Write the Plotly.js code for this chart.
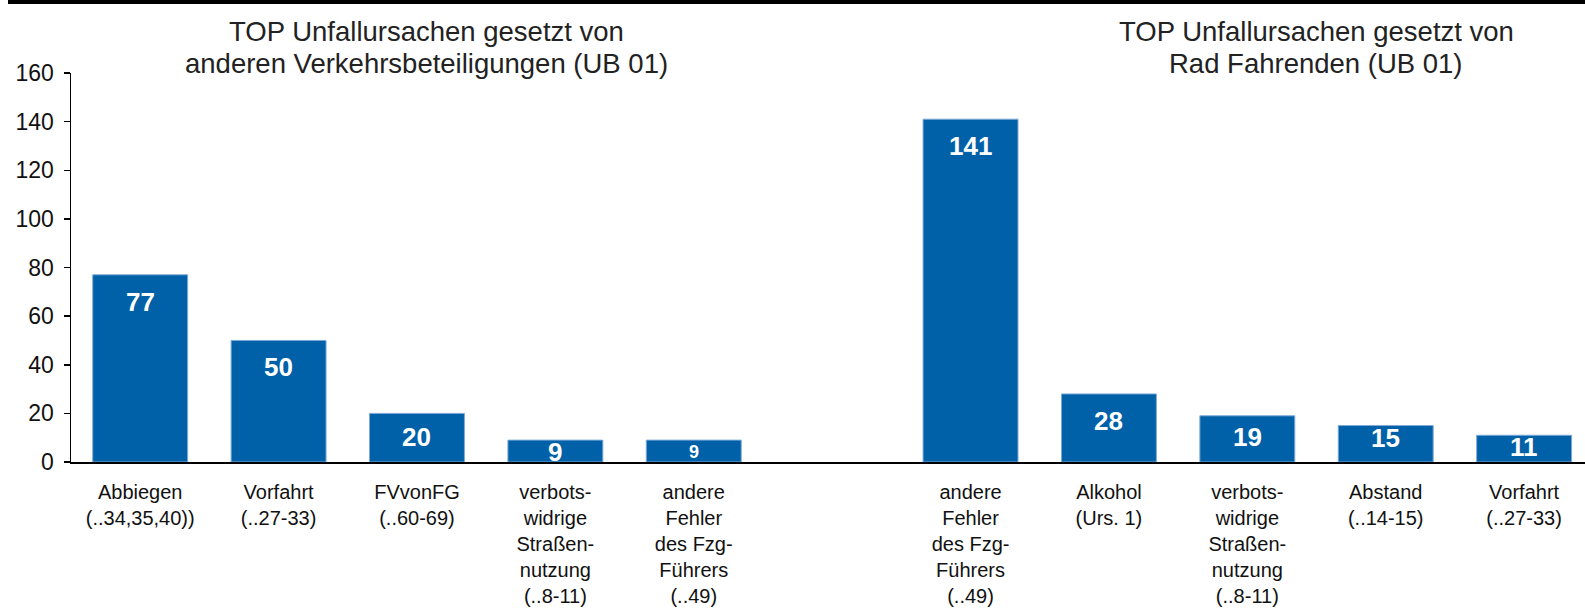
<!DOCTYPE html>
<html>
<head>
<meta charset="utf-8">
<script src="https://cdn.plot.ly/plotly-3.0.1.min.js"></script>
<style>html,body{margin:0;padding:0;background:#fff;}#chart{width:1585px;height:611px;}</style>
</head>
<body>
<div id="chart"></div>
<script>
// ---- data ----
var leftCategories = [
  "Abbiegen<br>(..34,35,40))",
  "Vorfahrt<br>(..27-33)",
  "FVvonFG<br>(..60-69)",
  "verbots-<br>widrige<br>Straßen-<br>nutzung<br>(..8-11)",
  "andere<br>Fehler<br>des Fzg-<br>Führers<br>(..49)"
];
var leftValues = [77, 50, 20, 9, 9];
var rightCategories = [
  "andere<br>Fehler<br>des Fzg-<br>Führers<br>(..49)",
  "Alkohol<br>(Urs. 1)",
  "verbots-<br>widrige<br>Straßen-<br>nutzung<br>(..8-11)",
  "Abstand<br>(..14-15)",
  "Vorfahrt<br>(..27-33)"
];
var rightValues = [141, 28, 19, 15, 11];
var leftTitle = ["TOP Unfallursachen gesetzt von", "anderen Verkehrsbeteiligungen (UB 01)"];
var rightTitle = ["TOP Unfallursachen gesetzt von", "Rad Fahrenden (UB 01)"];

// ---- layout helpers ----
var rightOffset = leftCategories.length + 1; // one empty slot between groups
var leftX = leftCategories.map(function(_, i){ return i; });
var rightX = rightCategories.map(function(_, i){ return i + rightOffset; });

var barColor = "#0061A8";
var plotTop = 73, plotBottom = 462, yMax = 160;
var pxPerUnit = (plotBottom - plotTop) / yMax;
var FONT = "Liberation Sans, Arial, sans-serif";

function barTrace(xs, ys, cats) {
  return {
    type: "bar", x: xs, y: ys, width: 0.686,
    marker: {color: barColor, line: {color: "#7fa9d6", width: 1}},
    hoverinfo: "skip", customdata: cats, showlegend: false
  };
}

var annotations = [];
function addValueLabels(xs, ys, smallIdx) {
  xs.forEach(function(x, i) {
    var h = ys[i] * pxPerUnit;
    var shift = Math.min(27, Math.max(h - 25, 12));
    annotations.push({
      x: x, y: ys[i], xref: "x", yref: "y", text: String(ys[i]),
      showarrow: false, yanchor: "middle", yshift: -shift,
      font: {family: FONT, size: (i === smallIdx ? 18 : 26), color: "#ffffff", weight: "bold"}
    });
  });
}
addValueLabels(leftX, leftValues, 4);
addValueLabels(rightX, rightValues, -1);

var titleFont = {family: FONT, size: 27.5, color: "#222"};
function addTitle(lines, xp) {
  var ys = [1.1054, 1.0257];
  lines.forEach(function(t, i) {
    annotations.push({x: xp, y: ys[i], xref: "paper", yref: "paper", text: t,
      showarrow: false, xanchor: "center", yanchor: "middle", font: titleFont});
  });
}
addTitle(leftTitle, 0.2345);
addTitle(rightTitle, 0.8224);

var data = [barTrace(leftX, leftValues, leftCategories), barTrace(rightX, rightValues, rightCategories)];

var layout = {
  width: 1585, height: 611,
  margin: {l: 71, r: 0, t: plotTop, b: 611 - plotBottom, pad: 0},
  paper_bgcolor: "#fff", plot_bgcolor: "#fff",
  font: {family: FONT, color: "#111"},
  xaxis: {
    range: [-0.5, 10.44], fixedrange: true,
    tickmode: "array", tickvals: leftX.concat(rightX), ticktext: leftCategories.concat(rightCategories),
    ticks: "", showgrid: false, zeroline: false,
    showline: true, linecolor: "#000", linewidth: 2,
    tickfont: {family: FONT, size: 20, color: "#111"}, ticklabelstandoff: 11
  },
  yaxis: {
    range: [0, yMax], dtick: 20, tick0: 0, fixedrange: true,
    ticks: "outside", ticklen: 6, tickwidth: 1.5, tickcolor: "#000",
    showline: true, linecolor: "#000", linewidth: 1.5,
    showgrid: false, zeroline: false,
    tickfont: {family: FONT, size: 23, color: "#111"}, ticklabelstandoff: 5
  },
  annotations: annotations,
  shapes: [{type: "rect", xref: "paper", yref: "paper", x0: -0.0416, x1: 1.0, y0: 1.1774, y1: 1.19,
    fillcolor: "#000", line: {width: 0}, layer: "above"}]
};

Plotly.newPlot("chart", data, layout, {displayModeBar: false, staticPlot: true});
</script>
</body>
</html>
